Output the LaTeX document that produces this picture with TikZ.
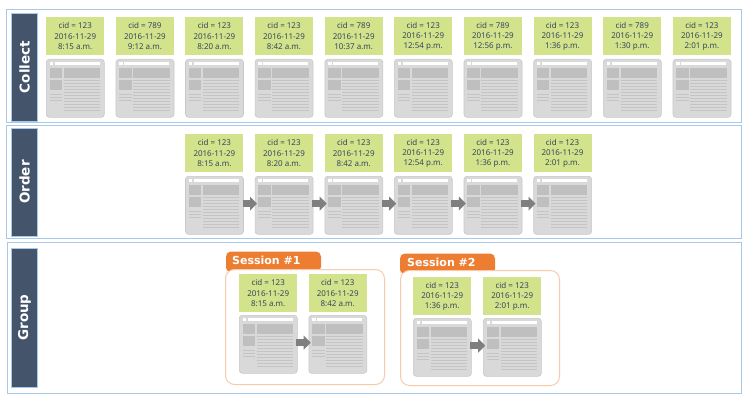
\documentclass[tikz,border=0pt]{standalone}
\usepackage{fontspec}
\setmainfont{Noto Sans}
\newfontfamily\heavyfont{DejaVu Sans Bold}
\usetikzlibrary{arrows.meta,positioning}
\definecolor{panelblue}{HTML}{A9C9EA}
\definecolor{navy}{HTML}{44546A}
\definecolor{limeg}{HTML}{D3E38C}
\definecolor{pagebg}{HTML}{D9D9D9}
\definecolor{pagemid}{HTML}{BFBFBF}
\definecolor{pageline}{HTML}{C4C4C4}
\definecolor{pageedge}{HTML}{C8C8C8}
\definecolor{txtc}{HTML}{36465A}
\definecolor{orangeT}{HTML}{ED7D31}
\definecolor{orangeL}{HTML}{F8CBAD}
\definecolor{arrowg}{HTML}{7F7F7F}
\tikzset{
  x=1pt,y=-1pt,
  panel/.style={draw=panelblue,line width=1pt,fill=white},
  sidelabel/.style={fill=navy,draw=panelblue,line width=.5pt,minimum width=108pt,minimum height=26pt,inner sep=0,rotate=90,text=white,font=\fontsize{13.5}{14}\heavyfont},
  infobox/.style={fill=limeg,minimum width=58pt,minimum height=38pt,inner sep=0,anchor=north west,text=txtc,align=center,font=\fontsize{8}{10.2}\selectfont},
  pagebox/.style={fill=pagebg,draw=pageedge,line width=.6pt,rounded corners=3pt,minimum width=58pt,minimum height=58pt,inner sep=0,anchor=north west},
  flowarrow/.style={draw=arrowg,line width=6.7pt,-{Triangle[length=7pt,width=13.5pt]},shorten >=-2.2pt,shorten <=-1.2pt},
  sessionframe/.style={draw=orangeL,line width=1pt,fill=white,rounded corners=9pt},
  sessiontab/.style={fill=orangeT,rounded corners=5pt},
  sessiontext/.style={text=white,font=\fontsize{11}{12}\heavyfont,inner sep=0,anchor=west}
}
% name, x, y(info), y(page), id, time
\newcommand{\card}[6]{%
  \node[infobox] (#1i) at (#2,#3) {cid = #5\\2016-11-29\\#6};
  \node[pagebox] (#1) at (#2,#4) {};
  \begin{scope}[shift={(#2,#4)}]
    \fill[white] (3.5,3) rectangle (7,6);
    \fill[white] (8.5,3) rectangle (53.5,6);
    \fill[pagemid] (3.5,9) rectangle (16,19);
    \fill[pagemid] (17.5,9) rectangle (54,19);
    \fill[pagemid] (3.5,21) rectangle (16,31);
    \foreach \yy in {35,38,41}{\fill[pageline] (3.5,\yy) rectangle (16,\yy+.8);}
    \foreach \yy in {21,24,27,30,33,36,39,42,45,48,51}{\fill[pageline] (17.5,\yy) rectangle (54,\yy+.8);}
  \end{scope}
}
\newcommand{\flow}[2]{\draw[flowarrow] ([yshift=1.7pt]#1.east) -- ([yshift=1.7pt]#2.west);}
\begin{document}
\begin{tikzpicture}
\useasboundingbox (0,0) rectangle (750,404);
\fill[white] (0,0) rectangle (750,404);
% panels
\draw[panel] (6.5,9.5) rectangle (741,122);
\draw[panel] (6.5,125.5) rectangle (741,238.5);
\draw[panel] (7.5,242) rectangle (741,393);
\node[sidelabel] (lc) at (24.5,67) {Collect};
\node[sidelabel] (lo) at (24.5,182) {Order};
\node[sidelabel,minimum width=139pt] (lg) at (24.5,317.5) {Group};
% Collect
\card{c1}{46}{17}{59}{123}{8:15 a.m.}
\card{c2}{115.7}{17}{59}{789}{9:12 a.m.}
\card{c3}{185.2}{17}{59}{123}{8:20 a.m.}
\card{c4}{254.8}{17}{59}{123}{8:42 a.m.}
\card{c5}{324.5}{17}{59}{789}{10:37 a.m.}
\card{c6}{394}{17}{59}{123}{12:54 p.m.}
\card{c7}{463.7}{17}{59}{789}{12:56 p.m.}
\card{c8}{533.3}{17}{59}{123}{1:36 p.m.}
\card{c9}{603}{17}{59}{789}{1:30 p.m.}
\card{c10}{672.7}{17}{59}{123}{2:01 p.m.}
% Order
\card{o1}{185.2}{134}{176}{123}{8:15 a.m.}
\card{o2}{254.8}{134}{176}{123}{8:20 a.m.}
\card{o3}{324.5}{134}{176}{123}{8:42 a.m.}
\card{o4}{394}{134}{176}{123}{12:54 p.m.}
\card{o5}{463.7}{134}{176}{123}{1:36 p.m.}
\card{o6}{533.3}{134}{176}{123}{2:01 p.m.}
\flow{o1}{o2}
\flow{o2}{o3}
\flow{o3}{o4}
\flow{o4}{o5}
\flow{o5}{o6}
% Session 1
\fill[sessiontab] (226,268) -- (226,251.5) -- (321,251.5) -- (321,272) -- (226,272) -- cycle;
\node[sessionframe,minimum width=159pt,minimum height=115pt,inner sep=0,anchor=north west] (s1) at (225,269) {};
\node[sessiontext] (s1t) at (232,260.5) {Session \#1};
\card{a1}{239}{274}{315}{123}{8:15 a.m.}
\card{a2}{308.5}{274}{315}{123}{8:42 a.m.}
\flow{a1}{a2}
% Session 2
\fill[sessiontab] (400,270) -- (400,253.5) -- (495,253.5) -- (495,274) -- (400,274) -- cycle;
\node[sessionframe,minimum width=159pt,minimum height=115pt,inner sep=0,anchor=north west] (s2) at (400,270) {};
\node[sessiontext] (s2t) at (407,262) {Session \#2};
\card{b1}{413}{277}{318}{123}{1:36 p.m.}
\card{b2}{483}{277}{318}{123}{2:01 p.m.}
\flow{b1}{b2}
\end{tikzpicture}
\end{document}
